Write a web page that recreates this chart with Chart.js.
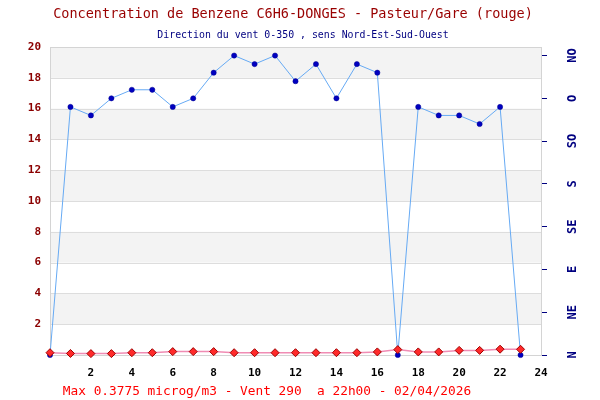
<!DOCTYPE html>
<html>
<head>
<meta charset="utf-8">
<script src="https://cdn.jsdelivr.net/npm/chart.js@4"></script>
<style>
  html, body { margin: 0; padding: 0; background: #fff; }
  #wrap { width: 600px; height: 400px; position: relative; }
</style>
</head>
<body>
<div id="wrap"><canvas id="chart" width="600" height="400"></canvas></div>
<script>
// hours of the day (x axis)
const hours = [0, 1, 2, 3, 4, 5, 6, 7, 8, 9, 10, 11, 12, 13, 14, 15, 16, 17, 18, 19, 20, 21, 22, 23];
// benzene concentration, microg/m3 (red)
const benzene = [0.15, 0.1, 0.09, 0.09, 0.15, 0.15, 0.22, 0.22, 0.22, 0.15, 0.15, 0.15,
                 0.15, 0.15, 0.15, 0.15, 0.2, 0.35, 0.2, 0.2, 0.3, 0.3, 0.3775, 0.37];
// wind direction, degrees (blue)
const windDir = [0, 290, 280, 300, 310, 310, 290, 300, 330, 350, 340, 350,
                 320, 340, 300, 340, 330, 0, 290, 280, 280, 270, 290, 0];
// right axis labels, one every 50 degrees
const dirTicks = [0, 50, 100, 150, 200, 250, 300, 350];
const dirLabels = ['N', 'NE', 'E', 'SE', 'S', 'SO', 'O', 'NO'];

const titleText = 'Concentration de Benzene C6H6-DONGES - Pasteur/Gare (rouge)';
const subtitleText = 'Direction du vent 0-350 , sens Nord-Est-Sud-Ouest';
const footerText = 'Max 0.3775 microg/m3 - Vent 290  a 22h00 - 02/04/2026';

const MONO = '"DejaVu Sans Mono", "Liberation Mono", monospace';

// grey bands + border behind the lines
const bandsPlugin = {
    id: 'bands',
    beforeDatasetsDraw(chart) {
        const { ctx, chartArea: a, scales: { y } } = chart;
        ctx.save();
        ctx.fillStyle = '#f3f3f3';
        for (let v = 2; v < 20; v += 4) {
            const top = y.getPixelForValue(v + 2);
            const bot = y.getPixelForValue(v);
            ctx.fillRect(a.left, top, a.right - a.left, bot - top);
        }
        ctx.strokeStyle = '#dddddd';
        ctx.lineWidth = 1;
        for (let v = 2; v < 20; v += 2) {
            const py = Math.round(y.getPixelForValue(v)) + 0.5;
            ctx.beginPath();
            ctx.moveTo(a.left, py);
            ctx.lineTo(a.right, py);
            ctx.stroke();
        }
        ctx.strokeStyle = '#d4d4d4';
        ctx.strokeRect(Math.round(a.left) + 0.5, Math.round(a.top) + 0.5,
                       Math.round(a.right - a.left), Math.round(a.bottom - a.top));
        ctx.restore();
    }
};

// titles, footer and rotated compass labels
const textPlugin = {
    id: 'texts',
    afterDraw(chart) {
        const { ctx, scales: { y1 } } = chart;
        ctx.save();
        ctx.textBaseline = 'middle';
        ctx.textAlign = 'center';
        ctx.fillStyle = '#990000';
        ctx.font = '13.5px ' + MONO;
        ctx.fillText(titleText, 293, 14);
        ctx.fillStyle = '#000080';
        ctx.font = '9.9px ' + MONO;
        ctx.fillText(subtitleText, 303, 35);
        ctx.fillStyle = '#ff0000';
        ctx.font = '12.8px ' + MONO;
        ctx.fillText(footerText, 267, 392);

        ctx.fillStyle = '#000080';
        ctx.font = 'bold 12px ' + MONO;
        dirTicks.forEach((d, i) => {
            const py = y1.getPixelForValue(d);
            ctx.save();
            ctx.translate(573, py);
            ctx.rotate(-Math.PI / 2);
            ctx.fillText(dirLabels[i], 0, 0);
            ctx.restore();
        });
        ctx.restore();
    }
};

new Chart(document.getElementById('chart'), {
    type: 'line',
    data: {
        labels: hours,
        datasets: [{
            label: 'Benzene',
            data: hours.map((h, i) => ({ x: h, y: benzene[i] })),
            yAxisID: 'y',
            borderColor: '#f08cb4',
            borderWidth: 1.5,
            pointStyle: 'rectRot',
            pointRadius: 4,
            pointBackgroundColor: '#ff2a2a',
            pointBorderColor: '#a00000',
            pointBorderWidth: 1,
            clip: false
        }, {
            label: 'Vent',
            data: hours.map((h, i) => ({ x: h, y: windDir[i] })),
            yAxisID: 'y1',
            borderColor: '#66aaf4',
            borderWidth: 1,
            pointRadius: 2.6,
            pointBackgroundColor: '#0000c0',
            pointBorderColor: '#000090',
            pointBorderWidth: 0.5,
            clip: false
        }]
    },
    options: {
        responsive: false,
        animation: false,
        layout: { padding: { top: 47, left: 0, right: 0, bottom: 0 } },
        plugins: {
            legend: { display: false },
            tooltip: { enabled: false }
        },
        scales: {
            x: {
                type: 'linear',
                min: 0,
                max: 24,
                border: { display: false },
                grid: { display: false, drawTicks: false },
                afterFit(scale) { scale.height = 45; },
                ticks: {
                    stepSize: 2,
                    padding: 12,
                    color: '#000000',
                    font: { family: MONO, size: 11, weight: 'bold' },
                    callback: v => (v === 0 ? '' : v)
                }
            },
            y: {
                position: 'left',
                min: 0,
                max: 20,
                border: { display: false },
                grid: { display: false, drawTicks: false },
                afterFit(scale) { scale.width = 50; },
                ticks: {
                    stepSize: 2,
                    padding: 9,
                    color: '#8b0000',
                    font: { family: MONO, size: 11, weight: 'bold' },
                    callback: v => (v === 0 ? '' : v)
                }
            },
            y1: {
                position: 'right',
                min: 0,
                max: 360,
                border: { display: false },
                afterBuildTicks(scale) {
                    scale.ticks = dirTicks.map(v => ({ value: v }));
                },
                afterFit(scale) { scale.width = 59; },
                grid: {
                    drawOnChartArea: false,
                    drawTicks: true,
                    tickLength: 6,
                    tickColor: '#000080',
                    offset: false
                },
                ticks: { display: false }
            }
        }
    },
    plugins: [bandsPlugin, textPlugin]
});
</script>
</body>
</html>
